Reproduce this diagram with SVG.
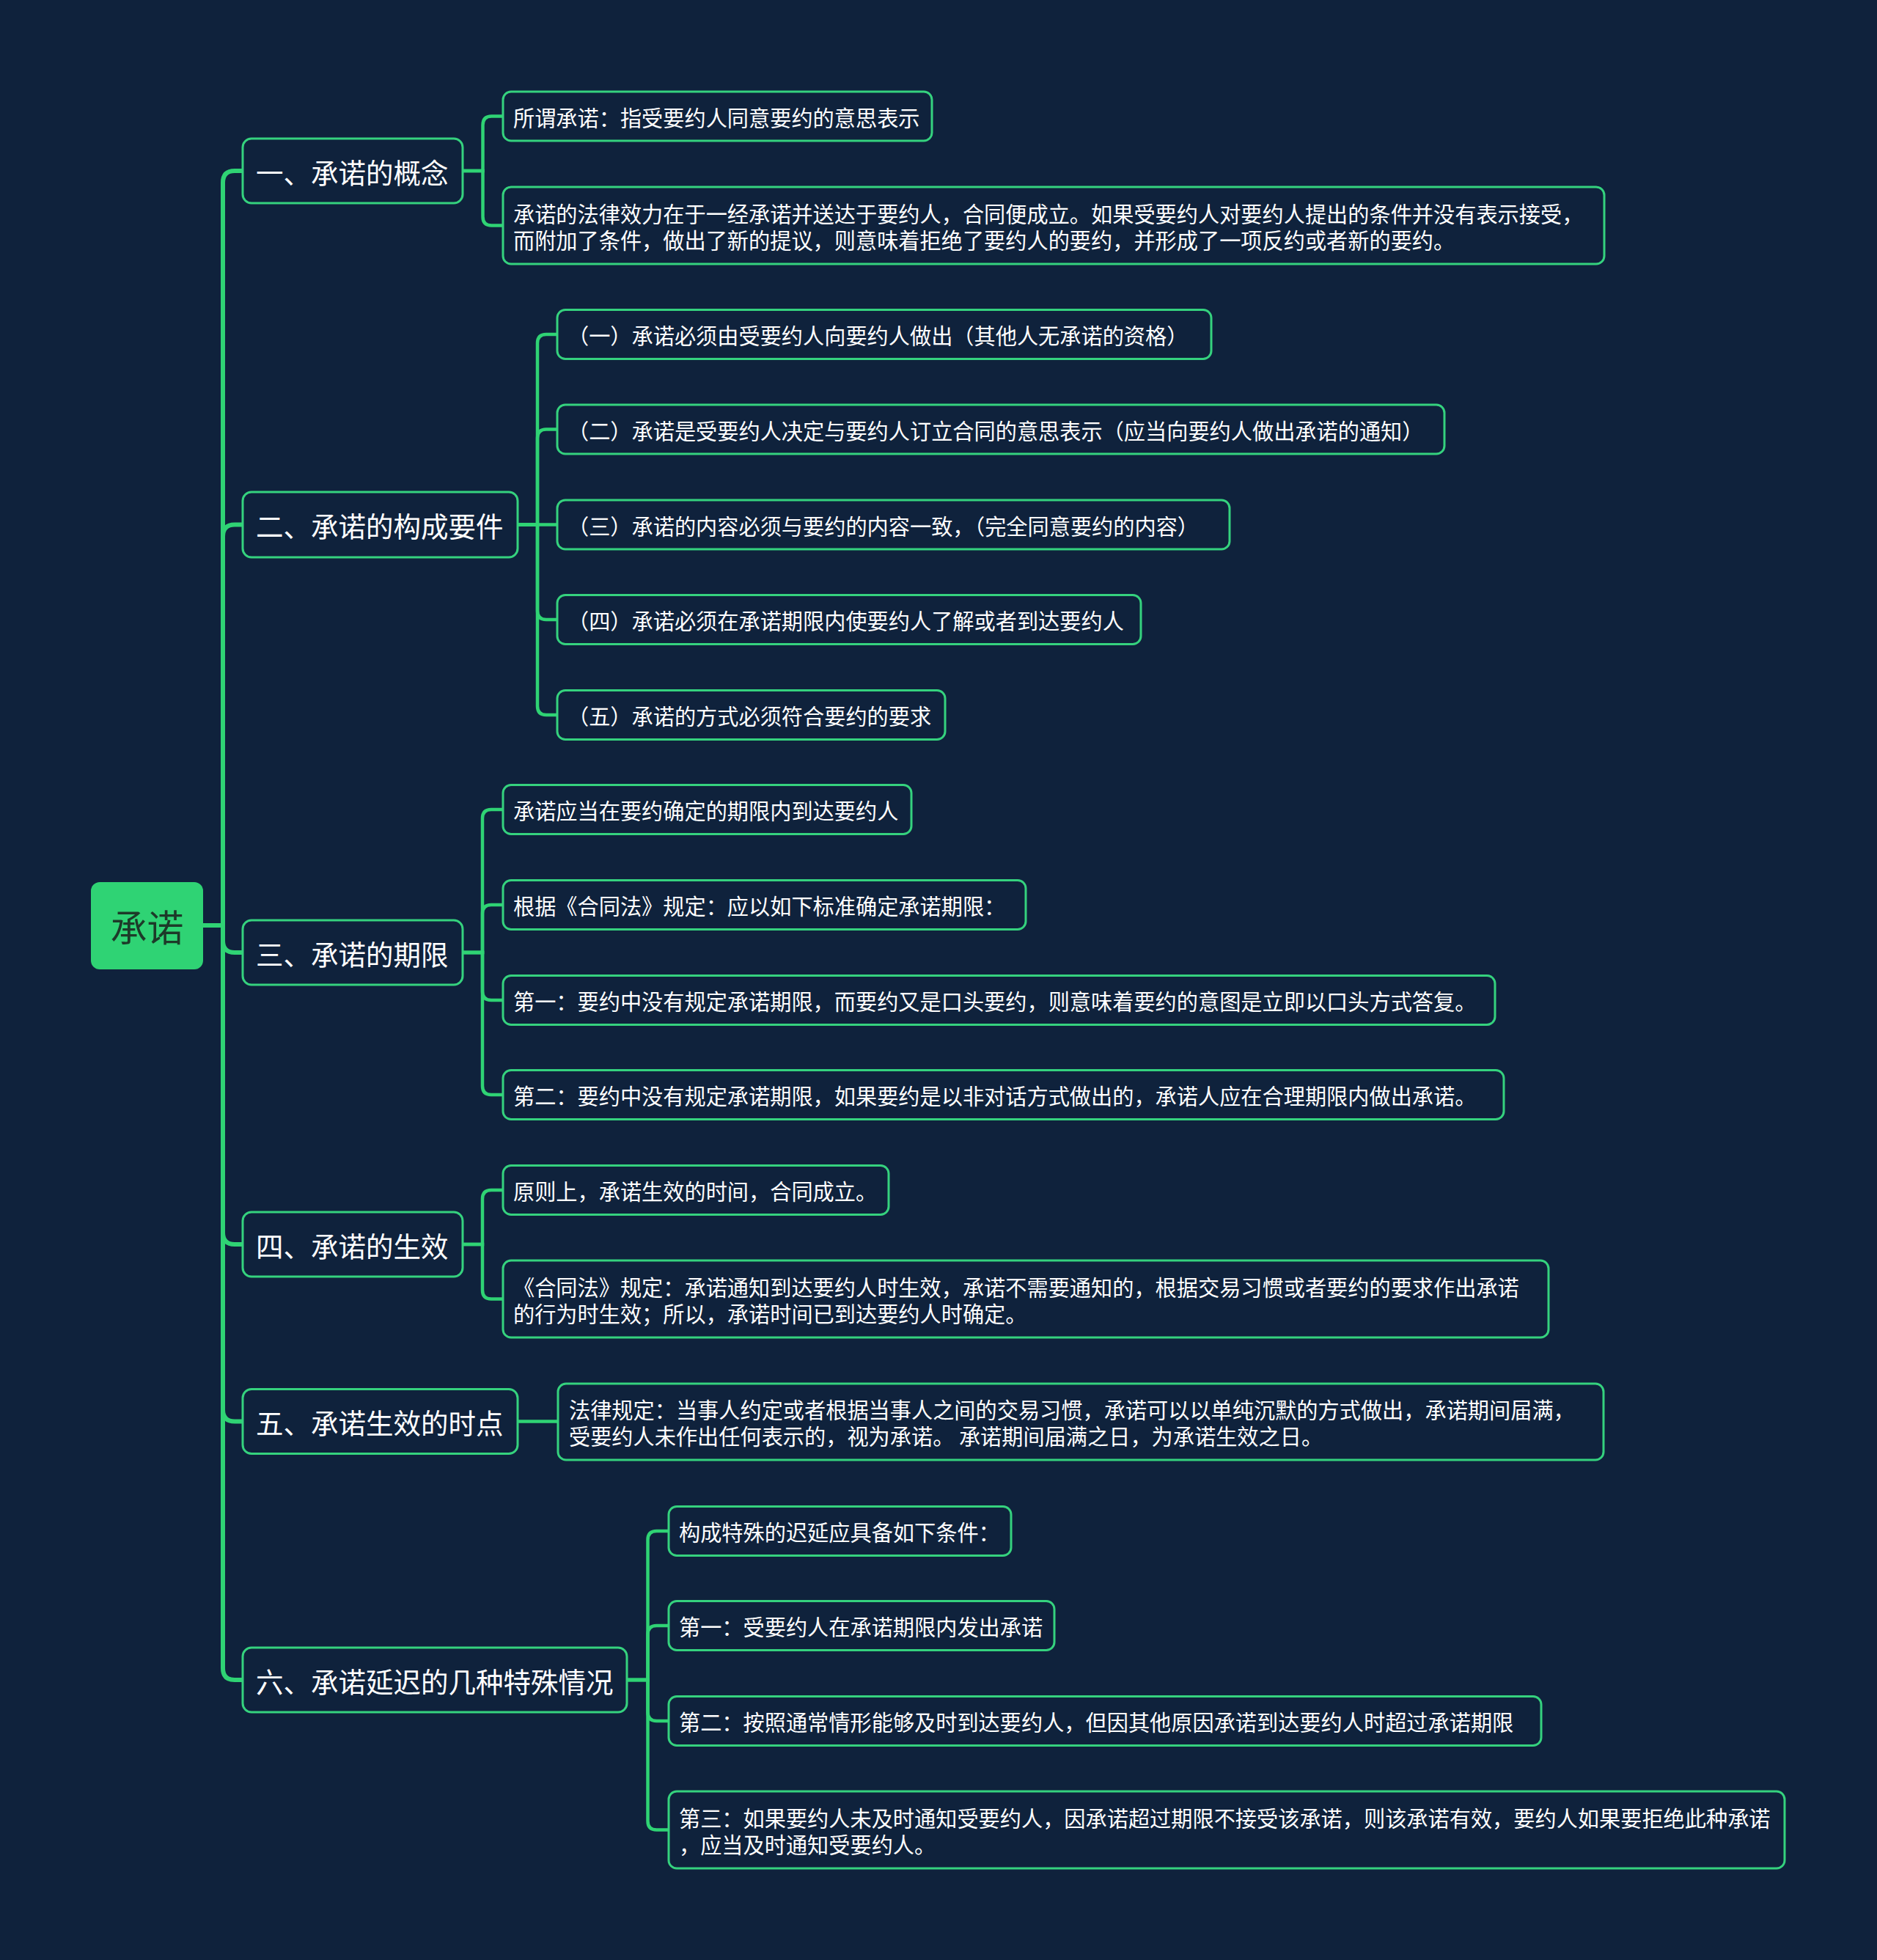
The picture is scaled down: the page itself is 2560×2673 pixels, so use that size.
<svg xmlns="http://www.w3.org/2000/svg" width="2560" height="2673" viewBox="0 0 2560 2673">
<style>
.bg{fill:#0f223c}
.n1,.n2{fill:#0f223c;stroke:#35d27e;stroke-width:3}
.root{fill:#2fd374}
.t{font-family:"Noto Sans CJK SC","Noto Sans",sans-serif;fill:#ffffff;dominant-baseline:central}
.t0{font-size:50px;fill:#1d3a29}
.t1{font-size:37.5px}
.t2{font-size:29.2px}
.c1{fill:none;stroke:#2fd374;stroke-width:6}
.c2{fill:none;stroke:#2fd374;stroke-width:4.5}
</style>
<rect class="bg" x="0" y="0" width="2560" height="2673"/>
<g id="connectors">
<path class="c1" d="M277,1262 H304 V249 Q304,233 320,233 H331"/>
<path class="c1" d="M277,1262 H304 V731.5 Q304,715.5 320,715.5 H331"/>
<path class="c1" d="M277,1262 H304 V1283 Q304,1299 320,1299 H331"/>
<path class="c1" d="M277,1262 H304 V1681 Q304,1697 320,1697 H331"/>
<path class="c1" d="M277,1262 H304 V1922.5 Q304,1938.5 320,1938.5 H331"/>
<path class="c1" d="M277,1262 H304 V2275 Q304,2291 320,2291 H331"/>
<path class="c2" d="M631,233 H658.5 V170.5 Q658.5,158.5 670.5,158.5 H686"/>
<path class="c2" d="M631,233 H658.5 V295.5 Q658.5,307.5 670.5,307.5 H686"/>
<path class="c2" d="M706,715.5 H733 V468 Q733,456 745,456 H760"/>
<path class="c2" d="M706,715.5 H733 V597.5 Q733,585.5 745,585.5 H760"/>
<path class="c2" d="M706,715.5 H760"/>
<path class="c2" d="M706,715.5 H733 V833 Q733,845 745,845 H760"/>
<path class="c2" d="M706,715.5 H733 V963 Q733,975 745,975 H760"/>
<path class="c2" d="M631,1299 H658 V1116 Q658,1104 670,1104 H686"/>
<path class="c2" d="M631,1299 H658 V1246 Q658,1234 670,1234 H686"/>
<path class="c2" d="M631,1299 H658 V1352 Q658,1364 670,1364 H686"/>
<path class="c2" d="M631,1299 H658 V1481 Q658,1493 670,1493 H686"/>
<path class="c2" d="M631,1697 H658 V1635 Q658,1623 670,1623 H686"/>
<path class="c2" d="M631,1697 H658 V1759.5 Q658,1771.5 670,1771.5 H686"/>
<path class="c2" d="M706,1938.5 H761"/>
<path class="c2" d="M855,2291 H883.5 V2100 Q883.5,2088 895.5,2088 H912"/>
<path class="c2" d="M855,2291 H883.5 V2229 Q883.5,2217 895.5,2217 H912"/>
<path class="c2" d="M855,2291 H883.5 V2335 Q883.5,2347 895.5,2347 H912"/>
<path class="c2" d="M855,2291 H883.5 V2483.5 Q883.5,2495.5 895.5,2495.5 H912"/>
</g>
<g id="root"><rect class="root" x="124" y="1203" width="153" height="119" rx="12"/><text class="t t0" x="200.5" y="1262" text-anchor="middle">承诺</text></g>
<g id="n1"><rect class="n1" x="331" y="189" width="300" height="88" rx="12"/><text class="t t1" x="349" y="233">一、承诺的概念</text></g>
<g id="n2"><rect class="n1" x="331" y="671" width="375" height="89" rx="12"/><text class="t t1" x="349" y="715.5">二、承诺的构成要件</text></g>
<g id="n3"><rect class="n1" x="331" y="1255" width="300" height="88" rx="12"/><text class="t t1" x="349" y="1299">三、承诺的期限</text></g>
<g id="n4"><rect class="n1" x="331" y="1653" width="300" height="88" rx="12"/><text class="t t1" x="349" y="1697">四、承诺的生效</text></g>
<g id="n5"><rect class="n1" x="331" y="1894.5" width="375" height="88" rx="12"/><text class="t t1" x="349" y="1938.5">五、承诺生效的时点</text></g>
<g id="n6"><rect class="n1" x="331" y="2247" width="524" height="88" rx="12"/><text class="t t1" x="349" y="2291">六、承诺延迟的几种特殊情况</text></g>
<g id="a1"><rect class="n2" x="686" y="125" width="585" height="67" rx="11"/><text class="t t2" x="700" y="158.5">所谓承诺：指受要约人同意要约的意思表示</text></g>
<g id="a2"><rect class="n2" x="686" y="255" width="1502" height="105" rx="11"/><text class="t t2" x="700" y="289.5"><tspan x="700" y="289.5">承诺的法律效力在于一经承诺并送达于要约人，合同便成立。如果受要约人对要约人提出的条件并没有表示接受，</tspan><tspan x="700" y="325.5">而附加了条件，做出了新的提议，则意味着拒绝了要约人的要约，并形成了一项反约或者新的要约。</tspan></text></g>
<g id="b1"><rect class="n2" x="760" y="422.5" width="892" height="67" rx="11"/><text class="t t2" x="774" y="456">（一）承诺必须由受要约人向要约人做出（其他人无承诺的资格）</text></g>
<g id="b2"><rect class="n2" x="760" y="552" width="1210" height="67" rx="11"/><text class="t t2" x="774" y="585.5">（二）承诺是受要约人决定与要约人订立合同的意思表示（应当向要约人做出承诺的通知）</text></g>
<g id="b3"><rect class="n2" x="760" y="682" width="917" height="67" rx="11"/><text class="t t2" x="774" y="715.5">（三）承诺的内容必须与要约的内容一致，（完全同意要约的内容）</text></g>
<g id="b4"><rect class="n2" x="760" y="811.5" width="796" height="67" rx="11"/><text class="t t2" x="774" y="845">（四）承诺必须在承诺期限内使要约人了解或者到达要约人</text></g>
<g id="b5"><rect class="n2" x="760" y="941.5" width="529" height="67" rx="11"/><text class="t t2" x="774" y="975">（五）承诺的方式必须符合要约的要求</text></g>
<g id="c1"><rect class="n2" x="686" y="1070.5" width="557" height="67" rx="11"/><text class="t t2" x="700" y="1104">承诺应当在要约确定的期限内到达要约人</text></g>
<g id="c2"><rect class="n2" x="686" y="1200.5" width="713" height="67" rx="11"/><text class="t t2" x="700" y="1234">根据《合同法》规定：应以如下标准确定承诺期限：</text></g>
<g id="c3"><rect class="n2" x="686" y="1330.5" width="1353" height="67" rx="11"/><text class="t t2" x="700" y="1364">第一：要约中没有规定承诺期限，而要约又是口头要约，则意味着要约的意图是立即以口头方式答复。</text></g>
<g id="c4"><rect class="n2" x="686" y="1459.5" width="1365" height="67" rx="11"/><text class="t t2" x="700" y="1493">第二：要约中没有规定承诺期限，如果要约是以非对话方式做出的，承诺人应在合理期限内做出承诺。</text></g>
<g id="d1"><rect class="n2" x="686" y="1589.5" width="526" height="67" rx="11"/><text class="t t2" x="700" y="1623">原则上，承诺生效的时间，合同成立。</text></g>
<g id="d2"><rect class="n2" x="686" y="1719" width="1426" height="105" rx="11"/><text class="t t2" x="700" y="1753.5"><tspan x="700" y="1753.5">《合同法》规定：承诺通知到达要约人时生效，承诺不需要通知的，根据交易习惯或者要约的要求作出承诺</tspan><tspan x="700" y="1789.5">的行为时生效；所以，承诺时间已到达要约人时确定。</tspan></text></g>
<g id="e1"><rect class="n2" x="761" y="1887" width="1426" height="104" rx="11"/><text class="t t2" x="776" y="1920.5"><tspan x="776" y="1920.5">法律规定：当事人约定或者根据当事人之间的交易习惯，承诺可以以单纯沉默的方式做出，承诺期间届满，</tspan><tspan x="776" y="1956.5">受要约人未作出任何表示的，视为承诺。 承诺期间届满之日，为承诺生效之日。</tspan></text></g>
<g id="f1"><rect class="n2" x="912" y="2054.5" width="467" height="67" rx="11"/><text class="t t2" x="926" y="2088">构成特殊的迟延应具备如下条件：</text></g>
<g id="f2"><rect class="n2" x="912" y="2183.5" width="526" height="67" rx="11"/><text class="t t2" x="926" y="2217">第一：受要约人在承诺期限内发出承诺</text></g>
<g id="f3"><rect class="n2" x="912" y="2313.5" width="1190" height="67" rx="11"/><text class="t t2" x="926" y="2347">第二：按照通常情形能够及时到达要约人，但因其他原因承诺到达要约人时超过承诺期限</text></g>
<g id="f4"><rect class="n2" x="912" y="2443" width="1522" height="105" rx="11"/><text class="t t2" x="926" y="2477.5"><tspan x="926" y="2477.5">第三：如果要约人未及时通知受要约人，因承诺超过期限不接受该承诺，则该承诺有效，要约人如果要拒绝此种承诺</tspan><tspan x="926" y="2513.5">，应当及时通知受要约人。</tspan></text></g>
</svg>
